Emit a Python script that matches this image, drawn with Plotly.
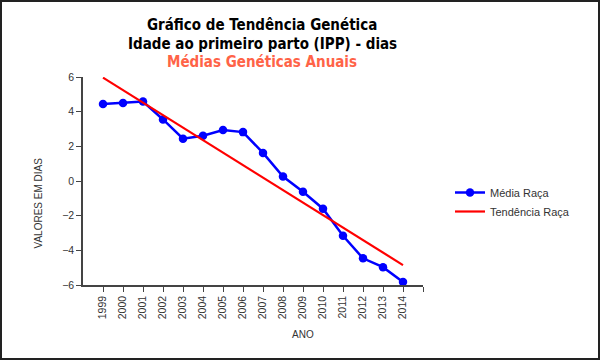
import plotly.graph_objects as go

anos = list(range(1999, 2015))
media_raca = [4.44, 4.50, 4.58, 3.55, 2.44, 2.61, 2.94, 2.82, 1.62, 0.26,
              -0.62, -1.60, -3.16, -4.46, -4.97, -5.83]
tendencia_ini, tendencia_fim = 5.96, -4.85
tendencia = [tendencia_ini + (tendencia_fim - tendencia_ini) * i / (len(anos) - 1) for i in range(len(anos))]
y_ticks = [-6, -4, -2, 0, 2, 4, 6]

W, H = 600, 360
L, R, T, B = 83, 177, 77, 75
PW, PH = W - L - R, H - T - B

def px(x):
    return (x - L) / PW

def py(y):
    return (H - B - y) / PH

fig = go.Figure()
fig.add_trace(go.Scatter(x=anos, y=media_raca, mode="lines+markers", name="Média Raça",
                         line=dict(color="#0000FF", width=2.5),
                         marker=dict(color="#0000FF", size=8.5)))
fig.add_trace(go.Scatter(x=anos, y=tendencia, mode="lines", name="Tendência Raça",
                         line=dict(color="#FF0000", width=2.2)))

title_font = "DejaVu Sans Condensed, DejaVu Sans"
tick_font = dict(family="Liberation Sans, Arial", size=10.5, color="#333333")
fig.update_layout(
    width=W, height=H,
    margin=dict(l=L, r=R, t=T, b=B),
    paper_bgcolor="white", plot_bgcolor="white",
    showlegend=True,
    legend=dict(x=px(450), y=py(178), xanchor="left", yanchor="top",
                font=dict(family="Liberation Sans, Arial", size=11, color="#333333"),
                bgcolor="rgba(0,0,0,0)", tracegroupgap=0, itemwidth=30),
    xaxis=dict(range=[1998, 2015], tickmode="array",
               tickvals=anos + [2015], ticktext=[str(a) for a in anos] + [""],
               tickangle=-90, ticks="outside", ticklen=5, tickcolor="#444444",
               showline=True, linecolor="#444444", linewidth=1.5, showgrid=False,
               zeroline=False, tickfont=tick_font),
    yaxis=dict(range=[-6, 6], tickvals=y_ticks, ticks="outside", ticklen=5,
               tickcolor="#444444", showline=True, linecolor="#444444", linewidth=1.5,
               showgrid=False, zeroline=False, tickfont=tick_font),
    annotations=[
        dict(text="<b>Gráfico de Tendência Genética</b>", x=px(262), y=py(14), xref="paper", yref="paper",
             showarrow=False, font=dict(family=title_font, size=15, color="black")),
        dict(text="<b>Idade ao primeiro parto (IPP) - dias</b>", x=px(262), y=py(32.5), xref="paper", yref="paper",
             showarrow=False, font=dict(family=title_font, size=15, color="black")),
        dict(text="<b>Médias Genéticas Anuais</b>", x=px(262), y=py(51), xref="paper", yref="paper",
             showarrow=False, font=dict(family=title_font, size=15, color="#FF6347")),
        dict(text="ANO", x=px(316), y=py(342), xref="paper", yref="paper",
             showarrow=False, font=dict(family="Liberation Sans, Arial", size=10, color="#333333")),
        dict(text="VALORES EM DIAS", x=px(30), y=py(203), xref="paper", yref="paper", textangle=-90,
             showarrow=False, font=dict(family="Liberation Sans, Arial", size=10, color="#333333")),
    ],
    shapes=[dict(type="rect", xref="paper", yref="paper",
                 x0=px(1), x1=px(599), y0=py(359), y1=py(1),
                 line=dict(color="#222222", width=2))],
)

fig.write_html("out.html", config={"displayModeBar": False},
               post_script="document.body.style.margin='0px';")
